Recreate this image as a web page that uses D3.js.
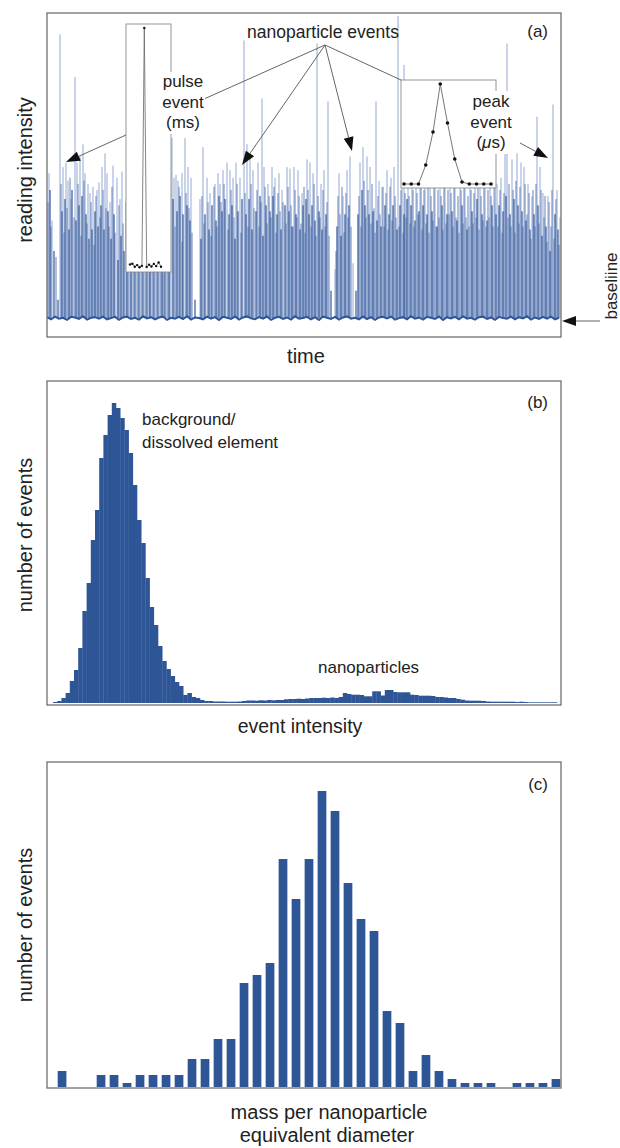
<!DOCTYPE html>
<html>
<head>
<meta charset="utf-8">
<script src="https://cdn.jsdelivr.net/npm/d3@7"></script>
<style>
  body { margin: 0; background: #fff; }
  text { font-family: "Liberation Sans", Arial, sans-serif; fill: #222; }
</style>
</head>
<body>
<script>
// ---- data ----
// (a) time trace: [time, intensity] for the light (tall), mid and dark (dense) event lines
var lightSpikes = [
  [2,47.5],[5,32],[13,93],[16,49.5],[19,51],[21,45],[24,39],[28,79],[30,51],[33,53],[36,57],[38,47.5],
  [41,44],[43,41],[46,43],[50,42],[52,44.5],[55,49.5],[58,54],[60,47.5],[63,38],[66,50],[70,46],[73,39],[75,48],
  [81,42],[84,46],[87,40],[91,44],[95,48],[99,41],[103,45],[106,43],[110,47],[114,40],[117,44],[121,46],
  [125,59],[127,46],[129,47],[131,45],[135,47.5],[138,59],[141,49.5],[144,46],[153,39],[156,56],[160,46],
  [163,41],[168,44],[171,47.5],[173,44],[176,48.5],[180,51],[183,48.5],[186,46],[189,51],[193,46],[197,91],
  [200,57],[203,54],[206,48.5],[211,51],[215,72],[217,49.5],[221,44],[225,49.5],[228,46],[232,47.5],[235,42],
  [240,49.5],[243,49],[247,49.5],[251,48.5],[255,41],[260,52],[263,51],[266,47.5],[270,90],[274,44],[277,48.5],
  [281,71],[288,16],[292,47.5],[296,40],[300,48.5],[303,53],[306,18],[313,51],[316,56],[320,53],[323,49.5],
  [329,71],[332,45],[335,43],[340,48.5],[344,46],[347,49.5],[351,99],[355,59],[357,83],
  [361,45],[365,48],[369,43],[373,47],[378,44],[383,49],[388,46],[393,45],[398,48],[403,44],[408,47],[413,46],
  [418,43],[423,48],[428,45],[433,47],[438,44],[443,46],[447,45],
  [450,44],[454,46],[458,54],[460,90],[465,52],[470,54],[474,51],[477,49.5],[481,44],[485,40],[490,66],
  [493,49.5],[496,41],[501,40],[506,70],[510,42],[513,33]
];
var midSpikes = [
  [1,38],[4,30],[9,20],[14,44],[17,28],[20,36],[23,46],[27,33],[31,44],[34,27],[37,45],[40,31],[44,38],[47,24],
  [49,40],[53,33],[56,42],[59,36],[62,30],[65,43],[68,28],[72,37],[76,31],
  [79,38],[82,27],[86,40],[90,33],[94,37],[98,29],[102,41],[105,32],[109,38],[113,27],[116,39],[120,33],[123,42],
  [128,30],[132,43],[135,25],[139,41],[142,36],[145,28],[155,40],[157,31],[161,38],[164,27],[167,43],[170,30],
  [174,38],[177,44],[181,29],[184,42],[187,33],[190,44],[194,28],[198,41],[201,30],[204,44],[207,36],[210,42],
  [212,30],[214,38],[218,43],[220,31],[222,40],[224,33],[227,43],[229,28],[231,41],[233,35],[236,38],[239,31],
  [241,43],[244,37],[246,30],[248,42],[250,33],[252,40],[254,31],[257,43],[258,28],[261,42],[264,30],[267,44],
  [269,27],[271,40],[273,33],[276,42],[278,30],[280,38],[282,27],
  [289,22],[291,40],[293,34],[295,43],[297,28],[299,41],[301,33],[304,30],
  [312,40],[314,30],[317,45],[319,33],[321,42],[324,31],[325,44],[327,36],[328,28],[331,40],[333,34],[336,43],
  [337,30],[339,41],[341,29],[343,43],[345,32],[348,40],[349,33],[352,30],[354,42],[356,28],[358,41],[359,33],
  [362,40],[363,31],[366,42],[367,30],[370,41],[371,34],[374,44],[375,29],[377,42],[379,31],[381,43],[382,28],
  [384,40],[386,32],[387,43],[389,30],[391,42],[392,33],[394,40],[396,29],[397,43],[399,31],[401,42],[402,34],
  [404,41],[406,30],[407,44],[409,33],[411,40],[412,28],[414,42],[416,31],[417,43],[419,33],[421,40],[422,30],
  [424,42],[426,31],[427,41],[429,33],[431,43],[432,29],[434,40],[436,32],[437,44],[439,30],[441,42],[442,33],
  [444,40],[446,30],[448,43],
  [451,30],[453,42],[455,28],[457,41],[461,33],[462,44],[464,30],[466,42],[468,28],[469,45],[472,31],[473,43],
  [476,30],[478,44],[480,34],[482,41],[484,26],[486,42],[488,30],[489,44],[492,31],[494,42],[497,33],[498,40],
  [500,25],[502,38],[504,30],[505,42],[507,26],[509,39],[512,24]
];
var darkSpikes = [
  [3,42],[7,22],[11,6],[15,35],[18,39],[22,29],[25,42],[29,32],[32,37],[35,40],[39,34],[42,26],[45,29],[48,35],
  [51,30],[54,37],[57,29],[61,35],[64,26],[67,34],[71,19],[74,27],[77,22],
  [80,30],[84,35],[88,28],[92,33],[96,31],[100,36],[103,29],[107,34],[111,30],[115,32],[118,35],[122,31],
  [126,39],[130,35],[133,40],[136,34],[140,37],[143,32],[148,6],[154,26],[158,34],[162,29],[165,37],[169,32],
  [172,40],[175,35],[178,39],[182,34],[185,37],[188,26],[191,35],[195,39],[199,34],[202,39],[205,29],[209,35],
  [213,40],[216,27],[219,37],[223,35],[226,40],[230,34],[234,29],[238,37],[242,35],[245,30],[249,34],[253,29],
  [256,37],[259,39],[262,34],[265,37],[268,32],[272,35],[275,29],[279,34],[284,9],[290,30],[294,27],[298,34],
  [302,37],[309,9],[311,34],[315,42],[318,37],[322,34],[326,35],[330,32],[334,30],[338,37],[342,34],[346,37],
  [350,29],[353,37],[357,34],[360,39],[364,37],[368,32],[372,35],[376,37],[380,34],[385,35],[390,30],[395,37],
  [400,34],[405,35],[410,32],[415,37],[420,29],[425,35],[430,39],[435,34],[440,32],[445,37],[449,34],[452,37],
  [456,35],[459,40],[463,34],[467,39],[471,37],[475,35],[479,32],[483,29],[487,34],[491,37],[495,27],[499,30],
  [503,22],[508,34],[511,29]
];
// baseline noise, sampled every 4 time units
var baselineNoise = [
  0.3,-0.4,0.5,-0.2,0.1,-0.6,0.4,0.2,-0.3,0.6,-0.5,0.1,0.3,-0.2,0.5,-0.4,0.0,0.4,-0.6,0.2,
  0.5,-0.3,0.1,-0.5,0.6,-0.1,0.3,-0.4,0.2,0.5,-0.6,0.1,-0.2,0.4,-0.3,0.6,-0.5,0.2,0.0,-0.4,
  0.5,-0.2,0.3,-0.6,0.4,0.1,-0.3,0.5,-0.5,0.2,0.6,-0.1,-0.4,0.3,-0.2,0.5,-0.6,0.1,0.4,-0.3,
  0.2,-0.5,0.6,-0.2,0.0,0.4,-0.4,0.3,-0.6,0.5,0.1,-0.3,0.4,-0.5,0.2,0.6,-0.2,0.1,-0.4,0.5,
  -0.3,0.3,-0.6,0.2,0.4,-0.1,0.5,-0.5,0.0,0.3,-0.4,0.6,-0.2,0.2,-0.5,0.4,0.1,-0.3,0.5,-0.6,
  0.3,-0.1,0.4,-0.4,0.6,-0.2,0.1,-0.5,0.3,0.5,-0.3,0.2,-0.6,0.4,0.0,-0.2,0.5,-0.4,0.3,-0.1,
  0.6,-0.5,0.2,-0.3,0.4,-0.2,0.5,-0.4,0.1
];
// insets
var pulseInset = [1.5,1.8,0.5,1.2,0.3,0.9,100,0.4,1.4,0.6,1.7,0.8,2.3,0.5];
var peakInset = [0,0,0,19,52,100,61,25,2,0,0,0,0];

// (b) event intensity histogram, 120 bins
var intensityCounts = [
  10,20,50,100,220,330,550,920,1200,1630,1930,2450,2680,2880,3000,2950,2850,2730,2500,2180,
  1830,1600,1250,960,780,570,420,340,270,210,170,80,100,60,50,30,20,
  20,15,15,15,13,13,13,15,20,25,25,23,27,25,30,27,30,30,37,40,40,43,40,45,50,50,50,53,50,55,50,60,
  100,90,83,83,80,67,67,117,117,75,130,130,110,107,107,107,83,80,73,73,73,70,60,60,55,50,50,40,33,
  25,23,23,23,20,15,13,13,13,13,13,13,10,13,10,7,7,7,7,7,7,7
];

// (c) mass / size distribution, 39 bins
var sizeCounts = [4,0,0,3,3,1,3,3,3,3,7,7,12,12,26,28,31,57,47,57,74,69,51,42,39,19,16,4,8,4,2,1,1,1,0,1,1,1,2];

var lightBlue = "#93a9d4", midBlue = "#5575b2", darkBlue = "#2f5597", barBlue = "#2e5596";

var svg = d3.select("body").append("svg")
  .attr("width", 620)
  .attr("height", 1148);

function arrow(g, x1, y1, x2, y2) {
  var a = Math.atan2(y2 - y1, x2 - x1), len = 14, hw = 5;
  var bx = x2 - len * Math.cos(a), by = y2 - len * Math.sin(a);
  g.append("line").attr("x1", x1).attr("y1", y1).attr("x2", bx).attr("y2", by)
    .attr("stroke", "#555").attr("stroke-width", 0.9);
  g.append("polygon")
    .attr("points", [[x2, y2],
      [bx + hw * Math.sin(a), by - hw * Math.cos(a)],
      [bx - hw * Math.sin(a), by + hw * Math.cos(a)]].join(" "))
    .attr("fill", "#111");
}

function frame(y, h) {
  svg.append("rect").attr("x", 47).attr("y", y).attr("width", 514).attr("height", h)
    .attr("fill", "none").attr("stroke", "#707070").attr("stroke-width", 1.3);
}

function yLabel(txt, cy) {
  svg.append("text").attr("transform", "translate(32," + cy + ") rotate(-90)")
    .attr("text-anchor", "middle").style("font-size", "20px").text(txt);
}

function spikes(g, data, cls, color, w) {
  g.selectAll("line." + cls).data(data).join("line")
    .attr("class", cls)
    .attr("x1", function(d) { return xA(d[0]); })
    .attr("x2", function(d) { return xA(d[0]); })
    .attr("y1", yA(0))
    .attr("y2", function(d) { return yA(d[1]); })
    .attr("stroke", color).attr("stroke-width", w);
}

// ---------- (a) ----------
var xA = d3.scaleLinear().domain([0, 514]).range([47, 561]);
var yA = d3.scaleLinear().domain([-6.2, 100]).range([337, 13]);

svg.append("clipPath").attr("id", "clipA").append("rect")
  .attr("x", 47).attr("y", 13).attr("width", 514).attr("height", 324);
var gA = svg.append("g").attr("clip-path", "url(#clipA)");

spikes(gA, lightSpikes, "light", lightBlue, 1);
spikes(gA, midSpikes, "mid", midBlue, 0.9);
spikes(gA, darkSpikes, "dark", darkBlue, 1.2);

gA.append("path").datum(baselineNoise)
  .attr("d", d3.line().x(function(d, i) { return xA(i * 4); }).y(function(d) { return yA(d); }))
  .attr("fill", "none").attr("stroke", darkBlue).attr("stroke-width", 2);

frame(13, 324);

// pulse inset
svg.append("rect").attr("x", 126).attr("y", 24).attr("width", 45).attr("height", 248)
  .attr("fill", "#fff").attr("stroke", "#8a8a8a").attr("stroke-width", 0.9);
var xP = d3.scaleLinear().domain([0, pulseInset.length - 1]).range([130, 161]);
var yP = d3.scaleLinear().domain([0, 100]).range([268, 28]);
svg.append("path").datum(pulseInset)
  .attr("d", d3.line().x(function(d, i) { return xP(i); }).y(function(d) { return yP(d); }))
  .attr("fill", "none").attr("stroke", "#666").attr("stroke-width", 0.8);
svg.selectAll("circle.pulse").data(pulseInset).join("circle").attr("class", "pulse")
  .attr("cx", function(d, i) { return xP(i); }).attr("cy", function(d) { return yP(d); })
  .attr("r", 1.2).attr("fill", "#111");

// peak inset
svg.append("rect").attr("x", 401).attr("y", 80).attr("width", 95).attr("height", 108)
  .attr("fill", "#fff").attr("stroke", "#8a8a8a").attr("stroke-width", 0.9);
var xK = d3.scaleLinear().domain([0, peakInset.length - 1]).range([404, 491]);
var yK = d3.scaleLinear().domain([0, 100]).range([184, 84]);
svg.append("path").datum(peakInset)
  .attr("d", d3.line().x(function(d, i) { return xK(i); }).y(function(d) { return yK(d); }))
  .attr("fill", "none").attr("stroke", "#777").attr("stroke-width", 1);
svg.selectAll("circle.peak").data(peakInset).join("circle").attr("class", "peak")
  .attr("cx", function(d, i) { return xK(i); }).attr("cy", function(d) { return yK(d); })
  .attr("r", 1.8).attr("fill", "#111");

// annotations
var ann = svg.append("g");
ann.append("line").attr("x1", 325).attr("y1", 45).attr("x2", 204).attr("y2", 99)
  .attr("stroke", "#555").attr("stroke-width", 0.9);
ann.append("line").attr("x1", 325).attr("y1", 45).attr("x2", 401).attr("y2", 80)
  .attr("stroke", "#555").attr("stroke-width", 0.9);
arrow(ann, 325, 45, 242, 165);
arrow(ann, 325, 45, 352, 151);
arrow(ann, 126, 135, 66, 162);
arrow(ann, 520, 143, 548, 158);
arrow(ann, 600, 321, 562, 321);

ann.append("rect").attr("x", 161).attr("y", 72).attr("width", 44).attr("height", 62).attr("fill", "#fff");
ann.append("rect").attr("x", 469).attr("y", 91).attr("width", 44).attr("height", 63).attr("fill", "#fff");

function stacked(lines, cx, y0, dy) {
  lines.forEach(function(t, i) {
    var el = svg.append("text").attr("x", cx).attr("y", y0 + i * dy)
      .attr("text-anchor", "middle").style("font-size", "17px");
    if (t === "mu") {
      el.append("tspan").text("(");
      el.append("tspan").style("font-style", "italic").text("\u03bc");
      el.append("tspan").text("s)");
    } else {
      el.text(t);
    }
  });
}
stacked(["pulse", "event", "(ms)"], 183, 87, 20.5);
stacked(["peak", "event", "mu"], 491, 107, 20.5);

svg.append("text").attr("x", 323).attr("y", 38).attr("text-anchor", "middle")
  .style("font-size", "17.5px").text("nanoparticle events");
svg.append("text").attr("x", 548).attr("y", 37).attr("text-anchor", "end")
  .style("font-size", "17px").text("(a)");
svg.append("text").attr("transform", "translate(617,286) rotate(-90)")
  .attr("text-anchor", "middle").style("font-size", "17px").text("baseliine");
yLabel("reading intensity", 170);
svg.append("text").attr("x", 306).attr("y", 363).attr("text-anchor", "middle")
  .style("font-size", "20px").text("time");

// ---------- (b) ----------
var xB = d3.scaleLinear().domain([0, intensityCounts.length]).range([53, 557]);
var yB = d3.scaleLinear().domain([0, 3220]).range([703, 381]);

svg.append("g").selectAll("rect").data(intensityCounts).join("rect")
  .attr("x", function(d, i) { return xB(i); })
  .attr("width", function(d, i) { return xB(i + 1) - xB(i) + 0.3; })
  .attr("y", function(d) { return yB(d); })
  .attr("height", function(d) { return yB(0) - yB(d); })
  .attr("fill", barBlue);

frame(381, 324);
svg.append("text").attr("x", 548).attr("y", 408).attr("text-anchor", "end")
  .style("font-size", "17px").text("(b)");
svg.append("text").attr("x", 142).attr("y", 425).style("font-size", "17px").text("background/");
svg.append("text").attr("x", 142).attr("y", 448).style("font-size", "17px").text("dissolved element");
svg.append("text").attr("x", 318).attr("y", 673).style("font-size", "17px").text("nanoparticles");
yLabel("number of events", 535);
svg.append("text").attr("x", 300).attr("y", 733).attr("text-anchor", "middle")
  .style("font-size", "19.5px").text("event intensity");

// ---------- (c) ----------
var xC = d3.scaleBand().domain(d3.range(sizeCounts.length)).range([53.4, 564.6]).padding(0.33);
var yC = d3.scaleLinear().domain([0, 81.25]).range([1087, 762]);

svg.append("g").selectAll("rect").data(sizeCounts).join("rect")
  .attr("x", function(d, i) { return xC(i); })
  .attr("width", xC.bandwidth())
  .attr("y", function(d) { return yC(d); })
  .attr("height", function(d) { return yC(0) - yC(d); })
  .attr("fill", barBlue);

frame(762, 326);
svg.append("text").attr("x", 548).attr("y", 790).attr("text-anchor", "end")
  .style("font-size", "17px").text("(c)");
yLabel("number of events", 925);
svg.append("text").attr("x", 329).attr("y", 1119).attr("text-anchor", "middle")
  .style("font-size", "20px").text("mass per nanoparticle");
svg.append("text").attr("x", 327).attr("y", 1142).attr("text-anchor", "middle")
  .style("font-size", "20px").text("equivalent diameter");
</script>
</body>
</html>
